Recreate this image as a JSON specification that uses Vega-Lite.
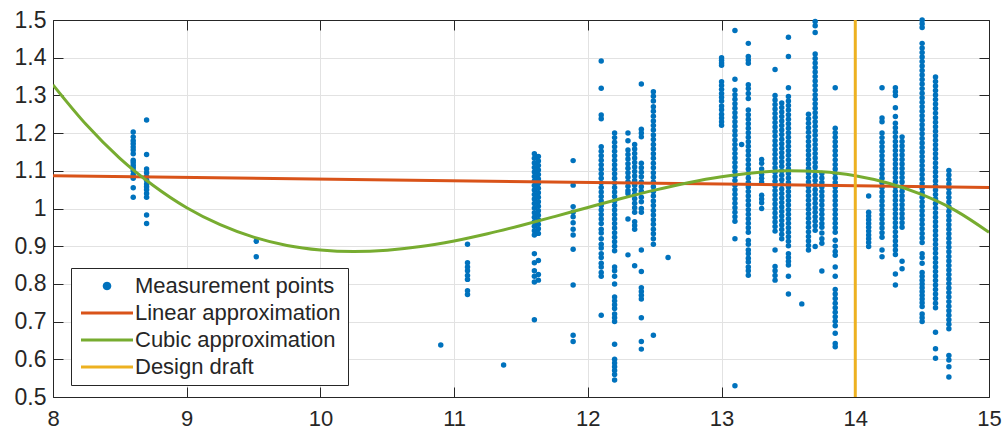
{
"$schema": "https://vega.github.io/schema/vega-lite/v6.json",
"width": 936, "height": 377,
"autosize": {"type": "none"},
"padding": {"left": 53, "top": 20, "right": 18, "bottom": 37},
"background": "white",
"config": {
  "view": {"stroke": null},
  "font": "Liberation Sans",
  "axis": {"domainColor": "#262626", "domainWidth": 1, "tickColor": "#262626", "tickSize": -10, "tickWidth": 1, "labelColor": "#262626", "labelFont": "Liberation Sans", "labelFontSize": 23, "gridColor": "#e2e2e2", "gridWidth": 1, "gridOpacity": 1},
  "legend": {"orient": "none", "legendX": 18, "legendY": 248, "fillColor": "white", "strokeColor": "#262626", "padding": 7, "rowPadding": 5, "labelFontSize": 22, "labelColor": "#262626", "labelFont": "Liberation Sans", "labelLimit": 400, "symbolSize": 100, "labelOffset": 35}
},
"datasets": {
"pts": [
{"x":8.6,"y":1.03},{"x":8.6,"y":1.055},{"x":8.6,"y":1.08},{"x":8.6,"y":1.09},{"x":8.6,"y":1.1},{"x":8.6,"y":1.108},{"x":8.6,"y":1.115},{"x":8.6,"y":1.122},{"x":8.6,"y":1.128},{"x":8.6,"y":1.145},{"x":8.6,"y":1.155},{"x":8.6,"y":1.163},{"x":8.6,"y":1.172},{"x":8.6,"y":1.18},{"x":8.6,"y":1.19},{"x":8.6,"y":1.203},
{"x":8.7,"y":0.96},{"x":8.7,"y":0.983},{"x":8.7,"y":1.03},{"x":8.7,"y":1.04},{"x":8.7,"y":1.05},{"x":8.7,"y":1.058},{"x":8.7,"y":1.065},{"x":8.7,"y":1.075},{"x":8.7,"y":1.085},{"x":8.7,"y":1.095},{"x":8.7,"y":1.105},{"x":8.7,"y":1.143},{"x":8.7,"y":1.235},
{"x":9.52,"y":0.872},{"x":9.52,"y":0.913},
{"x":10.9,"y":0.638},
{"x":11.1,"y":0.772},{"x":11.1,"y":0.782},{"x":11.1,"y":0.812},{"x":11.1,"y":0.822},{"x":11.1,"y":0.835},{"x":11.1,"y":0.845},{"x":11.1,"y":0.856},{"x":11.1,"y":0.905},
{"x":11.37,"y":0.585},
{"x":11.6,"y":1.145},{"x":11.6,"y":1.133},{"x":11.6,"y":1.121},{"x":11.6,"y":1.109},{"x":11.6,"y":1.097},{"x":11.6,"y":1.085},{"x":11.6,"y":1.073},{"x":11.6,"y":1.061},{"x":11.6,"y":1.049},{"x":11.6,"y":1.037},{"x":11.6,"y":1.025},{"x":11.6,"y":1.013},{"x":11.6,"y":1.001},{"x":11.6,"y":0.989},{"x":11.6,"y":0.977},{"x":11.6,"y":0.965},{"x":11.6,"y":0.953},{"x":11.6,"y":0.941},{"x":11.6,"y":0.93},{"x":11.6,"y":0.88},{"x":11.6,"y":0.856},{"x":11.6,"y":0.835},{"x":11.6,"y":0.82},{"x":11.6,"y":0.805},{"x":11.6,"y":0.705},
{"x":11.63,"y":1.138},{"x":11.63,"y":1.126},{"x":11.63,"y":1.114},{"x":11.63,"y":1.102},{"x":11.63,"y":1.09},{"x":11.63,"y":1.078},{"x":11.63,"y":1.066},{"x":11.63,"y":1.054},{"x":11.63,"y":1.042},{"x":11.63,"y":1.03},{"x":11.63,"y":1.018},{"x":11.63,"y":1.006},{"x":11.63,"y":0.994},{"x":11.63,"y":0.982},{"x":11.63,"y":0.97},{"x":11.63,"y":0.958},{"x":11.63,"y":0.946},{"x":11.63,"y":0.934},{"x":11.63,"y":0.862},{"x":11.63,"y":0.825},{"x":11.63,"y":0.81},
{"x":11.89,"y":1.127},{"x":11.89,"y":1.062},{"x":11.89,"y":1.005},{"x":11.89,"y":0.99},{"x":11.89,"y":0.978},{"x":11.89,"y":0.962},{"x":11.89,"y":0.945},{"x":11.89,"y":0.93},{"x":11.89,"y":0.892},{"x":11.89,"y":0.797},{"x":11.89,"y":0.664},{"x":11.89,"y":0.647},
{"x":12.1,"y":1.391},{"x":12.1,"y":1.319},{"x":12.1,"y":1.248},{"x":12.1,"y":1.238},{"x":12.1,"y":1.164},{"x":12.1,"y":1.152},{"x":12.1,"y":1.14},{"x":12.1,"y":1.128},{"x":12.1,"y":1.116},{"x":12.1,"y":1.104},{"x":12.1,"y":1.092},{"x":12.1,"y":1.08},{"x":12.1,"y":1.068},{"x":12.1,"y":1.056},{"x":12.1,"y":1.044},{"x":12.1,"y":1.032},{"x":12.1,"y":1.02},{"x":12.1,"y":1.008},{"x":12.1,"y":0.996},{"x":12.1,"y":0.984},{"x":12.1,"y":0.972},{"x":12.1,"y":0.96},{"x":12.1,"y":0.945},{"x":12.1,"y":0.935},{"x":12.1,"y":0.92},{"x":12.1,"y":0.905},{"x":12.1,"y":0.895},{"x":12.1,"y":0.88},{"x":12.1,"y":0.87},{"x":12.1,"y":0.855},{"x":12.1,"y":0.845},{"x":12.1,"y":0.83},{"x":12.1,"y":0.82},{"x":12.1,"y":0.717},
{"x":12.2,"y":1.2},{"x":12.2,"y":1.188},{"x":12.2,"y":1.176},{"x":12.2,"y":1.164},{"x":12.2,"y":1.152},{"x":12.2,"y":1.14},{"x":12.2,"y":1.128},{"x":12.2,"y":1.116},{"x":12.2,"y":1.104},{"x":12.2,"y":1.092},{"x":12.2,"y":1.08},{"x":12.2,"y":1.068},{"x":12.2,"y":1.056},{"x":12.2,"y":1.044},{"x":12.2,"y":1.032},{"x":12.2,"y":1.02},{"x":12.2,"y":1.008},{"x":12.2,"y":0.996},{"x":12.2,"y":0.984},{"x":12.2,"y":0.972},{"x":12.2,"y":0.96},{"x":12.2,"y":0.948},{"x":12.2,"y":0.936},{"x":12.2,"y":0.924},{"x":12.2,"y":0.912},{"x":12.2,"y":0.9},{"x":12.2,"y":0.888},{"x":12.2,"y":0.845},{"x":12.2,"y":0.835},{"x":12.2,"y":0.82},{"x":12.2,"y":0.8},{"x":12.2,"y":0.765},{"x":12.2,"y":0.755},{"x":12.2,"y":0.745},{"x":12.2,"y":0.735},{"x":12.2,"y":0.72},{"x":12.2,"y":0.71},{"x":12.2,"y":0.7},{"x":12.2,"y":0.64},{"x":12.2,"y":0.6},{"x":12.2,"y":0.59},{"x":12.2,"y":0.58},{"x":12.2,"y":0.57},{"x":12.2,"y":0.56},{"x":12.2,"y":0.545},
{"x":12.3,"y":1.2},{"x":12.3,"y":1.18},{"x":12.3,"y":1.155},{"x":12.3,"y":1.143},{"x":12.3,"y":1.131},{"x":12.3,"y":1.119},{"x":12.3,"y":1.107},{"x":12.3,"y":1.095},{"x":12.3,"y":1.083},{"x":12.3,"y":1.071},{"x":12.3,"y":1.059},{"x":12.3,"y":1.047},{"x":12.3,"y":1.04},{"x":12.3,"y":0.972},{"x":12.3,"y":0.877},
{"x":12.35,"y":1.17},{"x":12.35,"y":1.158},{"x":12.35,"y":1.146},{"x":12.35,"y":1.134},{"x":12.35,"y":1.122},{"x":12.35,"y":1.11},{"x":12.35,"y":1.098},{"x":12.35,"y":1.086},{"x":12.35,"y":1.074},{"x":12.35,"y":1.062},{"x":12.35,"y":1.05},{"x":12.35,"y":1.038},{"x":12.35,"y":1.026},{"x":12.35,"y":1.014},{"x":12.35,"y":1.002},{"x":12.35,"y":0.99},{"x":12.35,"y":0.965},{"x":12.35,"y":0.955},{"x":12.35,"y":0.945},{"x":12.35,"y":0.848},
{"x":12.4,"y":1.33},{"x":12.4,"y":1.21},{"x":12.4,"y":1.2},{"x":12.4,"y":1.19},{"x":12.4,"y":1.12},{"x":12.4,"y":1.108},{"x":12.4,"y":1.096},{"x":12.4,"y":1.084},{"x":12.4,"y":1.07},{"x":12.4,"y":1.058},{"x":12.4,"y":1.046},{"x":12.4,"y":1.03},{"x":12.4,"y":1.018},{"x":12.4,"y":1.0},{"x":12.4,"y":0.99},{"x":12.4,"y":0.89},{"x":12.4,"y":0.833},{"x":12.4,"y":0.79},{"x":12.4,"y":0.78},{"x":12.4,"y":0.77},{"x":12.4,"y":0.76},{"x":12.4,"y":0.71},{"x":12.4,"y":0.647},{"x":12.4,"y":0.627},
{"x":12.49,"y":1.31},{"x":12.49,"y":1.298},{"x":12.49,"y":1.285},{"x":12.49,"y":1.27},{"x":12.49,"y":1.258},{"x":12.49,"y":1.245},{"x":12.49,"y":1.232},{"x":12.49,"y":1.22},{"x":12.49,"y":1.208},{"x":12.49,"y":1.195},{"x":12.49,"y":1.183},{"x":12.49,"y":1.17},{"x":12.49,"y":1.158},{"x":12.49,"y":1.145},{"x":12.49,"y":1.133},{"x":12.49,"y":1.12},{"x":12.49,"y":1.108},{"x":12.49,"y":1.095},{"x":12.49,"y":1.083},{"x":12.49,"y":1.07},{"x":12.49,"y":1.058},{"x":12.49,"y":1.045},{"x":12.49,"y":1.033},{"x":12.49,"y":1.02},{"x":12.49,"y":1.008},{"x":12.49,"y":0.995},{"x":12.49,"y":0.983},{"x":12.49,"y":0.97},{"x":12.49,"y":0.958},{"x":12.49,"y":0.945},{"x":12.49,"y":0.933},{"x":12.49,"y":0.92},{"x":12.49,"y":0.905},{"x":12.49,"y":0.664},
{"x":12.6,"y":0.87},
{"x":13.0,"y":1.4},{"x":13.0,"y":1.393},{"x":13.0,"y":1.386},{"x":13.0,"y":1.38},{"x":13.0,"y":1.336},{"x":13.0,"y":1.326},{"x":13.0,"y":1.316},{"x":13.0,"y":1.305},{"x":13.0,"y":1.295},{"x":13.0,"y":1.285},{"x":13.0,"y":1.272},{"x":13.0,"y":1.262},{"x":13.0,"y":1.25},{"x":13.0,"y":1.24},{"x":13.0,"y":1.23},{"x":13.0,"y":1.221},
{"x":13.1,"y":1.472},{"x":13.1,"y":1.343},{"x":13.1,"y":1.314},{"x":13.1,"y":1.302},{"x":13.1,"y":1.29},{"x":13.1,"y":1.278},{"x":13.1,"y":1.266},{"x":13.1,"y":1.254},{"x":13.1,"y":1.242},{"x":13.1,"y":1.23},{"x":13.1,"y":1.218},{"x":13.1,"y":1.206},{"x":13.1,"y":1.194},{"x":13.1,"y":1.182},{"x":13.1,"y":1.17},{"x":13.1,"y":1.158},{"x":13.1,"y":1.146},{"x":13.1,"y":1.134},{"x":13.1,"y":1.122},{"x":13.1,"y":1.11},{"x":13.1,"y":1.098},{"x":13.1,"y":1.086},{"x":13.1,"y":1.074},{"x":13.1,"y":1.062},{"x":13.1,"y":1.05},{"x":13.1,"y":1.038},{"x":13.1,"y":1.026},{"x":13.1,"y":1.014},{"x":13.1,"y":1.002},{"x":13.1,"y":0.99},{"x":13.1,"y":0.978},{"x":13.1,"y":0.966},{"x":13.1,"y":0.92},{"x":13.1,"y":0.53},
{"x":13.15,"y":1.17},
{"x":13.2,"y":1.438},{"x":13.2,"y":1.403},{"x":13.2,"y":1.394},{"x":13.2,"y":1.385},{"x":13.2,"y":1.328},{"x":13.2,"y":1.318},{"x":13.2,"y":1.305},{"x":13.2,"y":1.292},{"x":13.2,"y":1.261},{"x":13.2,"y":1.249},{"x":13.2,"y":1.237},{"x":13.2,"y":1.225},{"x":13.2,"y":1.213},{"x":13.2,"y":1.201},{"x":13.2,"y":1.189},{"x":13.2,"y":1.177},{"x":13.2,"y":1.165},{"x":13.2,"y":1.153},{"x":13.2,"y":1.141},{"x":13.2,"y":1.129},{"x":13.2,"y":1.117},{"x":13.2,"y":1.105},{"x":13.2,"y":1.093},{"x":13.2,"y":1.081},{"x":13.2,"y":1.069},{"x":13.2,"y":1.057},{"x":13.2,"y":1.045},{"x":13.2,"y":1.033},{"x":13.2,"y":1.021},{"x":13.2,"y":1.009},{"x":13.2,"y":0.997},{"x":13.2,"y":0.985},{"x":13.2,"y":0.973},{"x":13.2,"y":0.961},{"x":13.2,"y":0.949},{"x":13.2,"y":0.937},{"x":13.2,"y":0.915},{"x":13.2,"y":0.905},{"x":13.2,"y":0.89},{"x":13.2,"y":0.88},{"x":13.2,"y":0.868},{"x":13.2,"y":0.858},{"x":13.2,"y":0.845},{"x":13.2,"y":0.835},{"x":13.2,"y":0.823},
{"x":13.3,"y":1.13},{"x":13.3,"y":1.12},{"x":13.3,"y":1.105},{"x":13.3,"y":1.09},{"x":13.3,"y":1.08},{"x":13.3,"y":1.07},{"x":13.3,"y":1.035},{"x":13.3,"y":1.025},{"x":13.3,"y":1.015},{"x":13.3,"y":1.0},
{"x":13.4,"y":1.369},{"x":13.4,"y":1.3},{"x":13.4,"y":1.288},{"x":13.4,"y":1.276},{"x":13.4,"y":1.264},{"x":13.4,"y":1.252},{"x":13.4,"y":1.24},{"x":13.4,"y":1.228},{"x":13.4,"y":1.216},{"x":13.4,"y":1.204},{"x":13.4,"y":1.192},{"x":13.4,"y":1.18},{"x":13.4,"y":1.168},{"x":13.4,"y":1.156},{"x":13.4,"y":1.144},{"x":13.4,"y":1.132},{"x":13.4,"y":1.12},{"x":13.4,"y":1.108},{"x":13.4,"y":1.096},{"x":13.4,"y":1.084},{"x":13.4,"y":1.072},{"x":13.4,"y":1.06},{"x":13.4,"y":1.048},{"x":13.4,"y":1.036},{"x":13.4,"y":1.024},{"x":13.4,"y":1.012},{"x":13.4,"y":1.0},{"x":13.4,"y":0.988},{"x":13.4,"y":0.976},{"x":13.4,"y":0.964},{"x":13.4,"y":0.952},{"x":13.4,"y":0.94},{"x":13.4,"y":0.89},{"x":13.4,"y":0.846},{"x":13.4,"y":0.835},{"x":13.4,"y":0.822},{"x":13.4,"y":0.81},
{"x":13.45,"y":1.28},{"x":13.45,"y":1.268},{"x":13.45,"y":1.256},{"x":13.45,"y":1.244},{"x":13.45,"y":1.232},{"x":13.45,"y":1.22},{"x":13.45,"y":1.208},{"x":13.45,"y":1.196},{"x":13.45,"y":1.184},{"x":13.45,"y":1.172},{"x":13.45,"y":1.16},{"x":13.45,"y":1.148},{"x":13.45,"y":1.136},{"x":13.45,"y":1.124},{"x":13.45,"y":1.112},{"x":13.45,"y":1.1},{"x":13.45,"y":1.088},{"x":13.45,"y":1.076},{"x":13.45,"y":1.064},{"x":13.45,"y":1.052},{"x":13.45,"y":1.04},{"x":13.45,"y":1.028},{"x":13.45,"y":1.016},{"x":13.45,"y":1.004},{"x":13.45,"y":0.992},{"x":13.45,"y":0.98},{"x":13.45,"y":0.968},{"x":13.45,"y":0.956},{"x":13.45,"y":0.944},{"x":13.45,"y":0.932},{"x":13.45,"y":0.92},
{"x":13.5,"y":1.454},{"x":13.5,"y":1.403},{"x":13.5,"y":1.32},{"x":13.5,"y":1.297},{"x":13.5,"y":1.285},{"x":13.5,"y":1.273},{"x":13.5,"y":1.261},{"x":13.5,"y":1.249},{"x":13.5,"y":1.237},{"x":13.5,"y":1.225},{"x":13.5,"y":1.213},{"x":13.5,"y":1.201},{"x":13.5,"y":1.189},{"x":13.5,"y":1.177},{"x":13.5,"y":1.165},{"x":13.5,"y":1.153},{"x":13.5,"y":1.141},{"x":13.5,"y":1.129},{"x":13.5,"y":1.117},{"x":13.5,"y":1.105},{"x":13.5,"y":1.093},{"x":13.5,"y":1.081},{"x":13.5,"y":1.069},{"x":13.5,"y":1.057},{"x":13.5,"y":1.045},{"x":13.5,"y":1.033},{"x":13.5,"y":1.021},{"x":13.5,"y":1.009},{"x":13.5,"y":0.997},{"x":13.5,"y":0.985},{"x":13.5,"y":0.973},{"x":13.5,"y":0.961},{"x":13.5,"y":0.949},{"x":13.5,"y":0.937},{"x":13.5,"y":0.925},{"x":13.5,"y":0.913},{"x":13.5,"y":0.901},{"x":13.5,"y":0.88},{"x":13.5,"y":0.87},{"x":13.5,"y":0.86},{"x":13.5,"y":0.85},{"x":13.5,"y":0.82},{"x":13.5,"y":0.773},
{"x":13.6,"y":0.747},
{"x":13.65,"y":1.25},{"x":13.65,"y":1.238},{"x":13.65,"y":1.226},{"x":13.65,"y":1.214},{"x":13.65,"y":1.202},{"x":13.65,"y":1.19},{"x":13.65,"y":1.178},{"x":13.65,"y":1.166},{"x":13.65,"y":1.154},{"x":13.65,"y":1.142},{"x":13.65,"y":1.13},{"x":13.65,"y":1.118},{"x":13.65,"y":1.106},{"x":13.65,"y":1.094},{"x":13.65,"y":1.082},{"x":13.65,"y":1.07},{"x":13.65,"y":1.058},{"x":13.65,"y":1.046},{"x":13.65,"y":1.034},{"x":13.65,"y":1.022},{"x":13.65,"y":1.01},{"x":13.65,"y":0.998},{"x":13.65,"y":0.986},{"x":13.65,"y":0.974},{"x":13.65,"y":0.962},{"x":13.65,"y":0.95},{"x":13.65,"y":0.938},{"x":13.65,"y":0.926},{"x":13.65,"y":0.914},{"x":13.65,"y":0.902},{"x":13.65,"y":0.89},
{"x":13.7,"y":1.496},{"x":13.7,"y":1.485},{"x":13.7,"y":1.467},{"x":13.7,"y":1.41},{"x":13.7,"y":1.398},{"x":13.7,"y":1.386},{"x":13.7,"y":1.374},{"x":13.7,"y":1.362},{"x":13.7,"y":1.35},{"x":13.7,"y":1.338},{"x":13.7,"y":1.326},{"x":13.7,"y":1.314},{"x":13.7,"y":1.302},{"x":13.7,"y":1.29},{"x":13.7,"y":1.278},{"x":13.7,"y":1.266},{"x":13.7,"y":1.254},{"x":13.7,"y":1.242},{"x":13.7,"y":1.23},{"x":13.7,"y":1.218},{"x":13.7,"y":1.206},{"x":13.7,"y":1.194},{"x":13.7,"y":1.182},{"x":13.7,"y":1.17},{"x":13.7,"y":1.158},{"x":13.7,"y":1.146},{"x":13.7,"y":1.134},{"x":13.7,"y":1.122},{"x":13.7,"y":1.11},{"x":13.7,"y":1.098},{"x":13.7,"y":1.086},{"x":13.7,"y":1.074},{"x":13.7,"y":1.062},{"x":13.7,"y":1.05},{"x":13.7,"y":1.038},{"x":13.7,"y":1.026},{"x":13.7,"y":1.014},{"x":13.7,"y":1.002},{"x":13.7,"y":0.99},{"x":13.7,"y":0.978},{"x":13.7,"y":0.966},{"x":13.7,"y":0.954},{"x":13.7,"y":0.942},{"x":13.7,"y":0.899},
{"x":13.75,"y":1.093},{"x":13.75,"y":1.081},{"x":13.75,"y":1.069},{"x":13.75,"y":1.057},{"x":13.75,"y":1.045},{"x":13.75,"y":1.033},{"x":13.75,"y":1.021},{"x":13.75,"y":1.009},{"x":13.75,"y":0.997},{"x":13.75,"y":0.985},{"x":13.75,"y":0.973},{"x":13.75,"y":0.96},{"x":13.75,"y":0.95},{"x":13.75,"y":0.935},{"x":13.75,"y":0.92},{"x":13.75,"y":0.908},{"x":13.75,"y":0.834},
{"x":13.85,"y":1.32},{"x":13.85,"y":1.213},{"x":13.85,"y":1.201},{"x":13.85,"y":1.189},{"x":13.85,"y":1.177},{"x":13.85,"y":1.165},{"x":13.85,"y":1.153},{"x":13.85,"y":1.141},{"x":13.85,"y":1.129},{"x":13.85,"y":1.117},{"x":13.85,"y":1.105},{"x":13.85,"y":1.093},{"x":13.85,"y":1.081},{"x":13.85,"y":1.069},{"x":13.85,"y":1.057},{"x":13.85,"y":1.045},{"x":13.85,"y":1.033},{"x":13.85,"y":1.021},{"x":13.85,"y":1.009},{"x":13.85,"y":0.997},{"x":13.85,"y":0.985},{"x":13.85,"y":0.973},{"x":13.85,"y":0.961},{"x":13.85,"y":0.949},{"x":13.85,"y":0.937},{"x":13.85,"y":0.916},{"x":13.85,"y":0.9},{"x":13.85,"y":0.886},{"x":13.85,"y":0.876},{"x":13.85,"y":0.845},{"x":13.85,"y":0.82},{"x":13.85,"y":0.785},{"x":13.85,"y":0.773},{"x":13.85,"y":0.761},{"x":13.85,"y":0.749},{"x":13.85,"y":0.737},{"x":13.85,"y":0.725},{"x":13.85,"y":0.713},{"x":13.85,"y":0.701},{"x":13.85,"y":0.689},{"x":13.85,"y":0.669},{"x":13.85,"y":0.642},{"x":13.85,"y":0.633},
{"x":14.1,"y":1.033},{"x":14.1,"y":0.99},{"x":14.1,"y":0.98},{"x":14.1,"y":0.97},{"x":14.1,"y":0.96},{"x":14.1,"y":0.95},{"x":14.1,"y":0.94},{"x":14.1,"y":0.93},{"x":14.1,"y":0.92},{"x":14.1,"y":0.91},{"x":14.1,"y":0.899},
{"x":14.2,"y":1.32},{"x":14.2,"y":1.24},{"x":14.2,"y":1.23},{"x":14.2,"y":1.2},{"x":14.2,"y":1.188},{"x":14.2,"y":1.176},{"x":14.2,"y":1.164},{"x":14.2,"y":1.152},{"x":14.2,"y":1.14},{"x":14.2,"y":1.128},{"x":14.2,"y":1.116},{"x":14.2,"y":1.104},{"x":14.2,"y":1.092},{"x":14.2,"y":1.08},{"x":14.2,"y":1.068},{"x":14.2,"y":1.056},{"x":14.2,"y":1.044},{"x":14.2,"y":1.032},{"x":14.2,"y":1.02},{"x":14.2,"y":1.008},{"x":14.2,"y":0.996},{"x":14.2,"y":0.984},{"x":14.2,"y":0.972},{"x":14.2,"y":0.96},{"x":14.2,"y":0.948},{"x":14.2,"y":0.936},{"x":14.2,"y":0.924},{"x":14.2,"y":0.89},{"x":14.2,"y":0.872},
{"x":14.3,"y":1.32},{"x":14.3,"y":1.31},{"x":14.3,"y":1.3},{"x":14.3,"y":1.267},{"x":14.3,"y":1.244},{"x":14.3,"y":1.226},{"x":14.3,"y":1.214},{"x":14.3,"y":1.202},{"x":14.3,"y":1.19},{"x":14.3,"y":1.178},{"x":14.3,"y":1.166},{"x":14.3,"y":1.154},{"x":14.3,"y":1.142},{"x":14.3,"y":1.13},{"x":14.3,"y":1.118},{"x":14.3,"y":1.106},{"x":14.3,"y":1.094},{"x":14.3,"y":1.082},{"x":14.3,"y":1.07},{"x":14.3,"y":1.058},{"x":14.3,"y":1.046},{"x":14.3,"y":1.034},{"x":14.3,"y":1.022},{"x":14.3,"y":1.01},{"x":14.3,"y":0.998},{"x":14.3,"y":0.986},{"x":14.3,"y":0.974},{"x":14.3,"y":0.962},{"x":14.3,"y":0.95},{"x":14.3,"y":0.938},{"x":14.3,"y":0.926},{"x":14.3,"y":0.914},{"x":14.3,"y":0.902},{"x":14.3,"y":0.89},{"x":14.3,"y":0.878},{"x":14.3,"y":0.826},{"x":14.3,"y":0.797},
{"x":14.35,"y":1.19},{"x":14.35,"y":1.178},{"x":14.35,"y":1.166},{"x":14.35,"y":1.154},{"x":14.35,"y":1.142},{"x":14.35,"y":1.13},{"x":14.35,"y":1.118},{"x":14.35,"y":1.106},{"x":14.35,"y":1.094},{"x":14.35,"y":1.082},{"x":14.35,"y":1.07},{"x":14.35,"y":1.058},{"x":14.35,"y":1.046},{"x":14.35,"y":1.034},{"x":14.35,"y":1.022},{"x":14.35,"y":1.01},{"x":14.35,"y":0.998},{"x":14.35,"y":0.986},{"x":14.35,"y":0.974},{"x":14.35,"y":0.962},{"x":14.35,"y":0.95},{"x":14.35,"y":0.86},{"x":14.35,"y":0.84},
{"x":14.5,"y":1.5},{"x":14.5,"y":1.49},{"x":14.5,"y":1.48},{"x":14.5,"y":1.438},{"x":14.5,"y":1.426},{"x":14.5,"y":1.414},{"x":14.5,"y":1.402},{"x":14.5,"y":1.39},{"x":14.5,"y":1.378},{"x":14.5,"y":1.366},{"x":14.5,"y":1.354},{"x":14.5,"y":1.342},{"x":14.5,"y":1.33},{"x":14.5,"y":1.318},{"x":14.5,"y":1.306},{"x":14.5,"y":1.294},{"x":14.5,"y":1.282},{"x":14.5,"y":1.27},{"x":14.5,"y":1.258},{"x":14.5,"y":1.246},{"x":14.5,"y":1.234},{"x":14.5,"y":1.222},{"x":14.5,"y":1.21},{"x":14.5,"y":1.198},{"x":14.5,"y":1.186},{"x":14.5,"y":1.174},{"x":14.5,"y":1.162},{"x":14.5,"y":1.15},{"x":14.5,"y":1.138},{"x":14.5,"y":1.126},{"x":14.5,"y":1.114},{"x":14.5,"y":1.102},{"x":14.5,"y":1.09},{"x":14.5,"y":1.078},{"x":14.5,"y":1.066},{"x":14.5,"y":1.054},{"x":14.5,"y":1.042},{"x":14.5,"y":1.03},{"x":14.5,"y":1.018},{"x":14.5,"y":1.006},{"x":14.5,"y":0.994},{"x":14.5,"y":0.982},{"x":14.5,"y":0.97},{"x":14.5,"y":0.958},{"x":14.5,"y":0.946},{"x":14.5,"y":0.934},{"x":14.5,"y":0.922},{"x":14.5,"y":0.91},{"x":14.5,"y":0.88},{"x":14.5,"y":0.87},{"x":14.5,"y":0.855},{"x":14.5,"y":0.83},{"x":14.5,"y":0.82},{"x":14.5,"y":0.81},{"x":14.5,"y":0.8},{"x":14.5,"y":0.79},{"x":14.5,"y":0.78},{"x":14.5,"y":0.77},{"x":14.5,"y":0.76},{"x":14.5,"y":0.75},{"x":14.5,"y":0.74},{"x":14.5,"y":0.72},{"x":14.5,"y":0.71},{"x":14.5,"y":0.7},
{"x":14.6,"y":1.349},{"x":14.6,"y":1.337},{"x":14.6,"y":1.325},{"x":14.6,"y":1.313},{"x":14.6,"y":1.301},{"x":14.6,"y":1.289},{"x":14.6,"y":1.277},{"x":14.6,"y":1.265},{"x":14.6,"y":1.253},{"x":14.6,"y":1.241},{"x":14.6,"y":1.229},{"x":14.6,"y":1.217},{"x":14.6,"y":1.205},{"x":14.6,"y":1.193},{"x":14.6,"y":1.181},{"x":14.6,"y":1.169},{"x":14.6,"y":1.157},{"x":14.6,"y":1.145},{"x":14.6,"y":1.133},{"x":14.6,"y":1.121},{"x":14.6,"y":1.109},{"x":14.6,"y":1.097},{"x":14.6,"y":1.085},{"x":14.6,"y":1.073},{"x":14.6,"y":1.061},{"x":14.6,"y":1.049},{"x":14.6,"y":1.037},{"x":14.6,"y":1.025},{"x":14.6,"y":1.013},{"x":14.6,"y":1.001},{"x":14.6,"y":0.989},{"x":14.6,"y":0.977},{"x":14.6,"y":0.965},{"x":14.6,"y":0.953},{"x":14.6,"y":0.941},{"x":14.6,"y":0.929},{"x":14.6,"y":0.917},{"x":14.6,"y":0.905},{"x":14.6,"y":0.893},{"x":14.6,"y":0.881},{"x":14.6,"y":0.869},{"x":14.6,"y":0.857},{"x":14.6,"y":0.845},{"x":14.6,"y":0.833},{"x":14.6,"y":0.821},{"x":14.6,"y":0.809},{"x":14.6,"y":0.797},{"x":14.6,"y":0.785},{"x":14.6,"y":0.773},{"x":14.6,"y":0.761},{"x":14.6,"y":0.749},{"x":14.6,"y":0.737},{"x":14.6,"y":0.672},{"x":14.6,"y":0.628},{"x":14.6,"y":0.603},
{"x":14.7,"y":1.101},{"x":14.7,"y":1.089},{"x":14.7,"y":1.077},{"x":14.7,"y":1.065},{"x":14.7,"y":1.053},{"x":14.7,"y":1.041},{"x":14.7,"y":1.029},{"x":14.7,"y":1.017},{"x":14.7,"y":1.005},{"x":14.7,"y":0.993},{"x":14.7,"y":0.981},{"x":14.7,"y":0.969},{"x":14.7,"y":0.957},{"x":14.7,"y":0.945},{"x":14.7,"y":0.933},{"x":14.7,"y":0.921},{"x":14.7,"y":0.909},{"x":14.7,"y":0.897},{"x":14.7,"y":0.885},{"x":14.7,"y":0.873},{"x":14.7,"y":0.861},{"x":14.7,"y":0.849},{"x":14.7,"y":0.837},{"x":14.7,"y":0.825},{"x":14.7,"y":0.813},{"x":14.7,"y":0.801},{"x":14.7,"y":0.789},{"x":14.7,"y":0.777},{"x":14.7,"y":0.765},{"x":14.7,"y":0.753},{"x":14.7,"y":0.741},{"x":14.7,"y":0.729},{"x":14.7,"y":0.717},{"x":14.7,"y":0.705},{"x":14.7,"y":0.693},{"x":14.7,"y":0.681},{"x":14.7,"y":0.61},{"x":14.7,"y":0.598},{"x":14.7,"y":0.58},{"x":14.7,"y":0.553}
],
"linear": [
{"x":8,"y":1.087,"series":"Linear approximation"},{"x":15,"y":1.056,"series":"Linear approximation"}
],
"cubic": [
{"x":8.0,"y":1.328,"series":"Cubic approximation"},{"x":8.25,"y":1.222,"series":"Cubic approximation"},{"x":8.5,"y":1.133,"series":"Cubic approximation"},{"x":8.75,"y":1.061,"series":"Cubic approximation"},{"x":9.0,"y":1.002,"series":"Cubic approximation"},{"x":9.25,"y":0.957,"series":"Cubic approximation"},{"x":9.5,"y":0.924,"series":"Cubic approximation"},{"x":9.75,"y":0.902,"series":"Cubic approximation"},{"x":10.0,"y":0.89,"series":"Cubic approximation"},{"x":10.25,"y":0.886,"series":"Cubic approximation"},{"x":10.5,"y":0.8895,"series":"Cubic approximation"},{"x":10.75,"y":0.899,"series":"Cubic approximation"},{"x":11.0,"y":0.914,"series":"Cubic approximation"},{"x":11.25,"y":0.933,"series":"Cubic approximation"},{"x":11.5,"y":0.955,"series":"Cubic approximation"},{"x":11.75,"y":0.9785,"series":"Cubic approximation"},{"x":12.0,"y":1.0027,"series":"Cubic approximation"},{"x":12.25,"y":1.0265,"series":"Cubic approximation"},{"x":12.5,"y":1.0488,"series":"Cubic approximation"},{"x":12.75,"y":1.0684,"series":"Cubic approximation"},{"x":13.0,"y":1.0841,"series":"Cubic approximation"},{"x":13.25,"y":1.095,"series":"Cubic approximation"},{"x":13.5,"y":1.0999,"series":"Cubic approximation"},{"x":13.75,"y":1.0975,"series":"Cubic approximation"},{"x":14.0,"y":1.087,"series":"Cubic approximation"},{"x":14.25,"y":1.067,"series":"Cubic approximation"},{"x":14.5,"y":1.0366,"series":"Cubic approximation"},{"x":14.75,"y":0.9945,"series":"Cubic approximation"},{"x":15.0,"y":0.937,"series":"Cubic approximation"}
],
"draft": [
{"x":14,"y":0.5,"series":"Design draft"},{"x":14,"y":1.5,"series":"Design draft"}
]
},
"layer": [
{
  "data": {"name": "pts"},
  "mark": {"type": "circle", "size": 30, "opacity": 1, "color": "#0072BD"},
  "encoding": {
    "x": {"field": "x", "type": "quantitative", "scale": {"domain": [8, 15], "nice": false, "zero": false},
      "axis": {"orient": "bottom", "title": null, "values": [8,9,10,11,12,13,14,15], "grid": true, "labelFlush": false, "labelPadding": 21, "labelFontSize": 22}},
    "y": {"field": "y", "type": "quantitative", "scale": {"domain": [0.5, 1.5], "nice": false, "zero": false},
      "axis": {"orient": "left", "title": null, "values": [0.5,0.6,0.7,0.8,0.9,1,1.1,1.2,1.3,1.4,1.5], "format": "~g", "grid": true, "labelFlush": false, "labelPadding": 17}},
    "color": {"datum": "Measurement points", "type": "nominal",
      "scale": {"domain": ["Measurement points", "Linear approximation", "Cubic approximation", "Design draft"], "range": ["#0072BD", "#D95319", "#77AC30", "#EDB120"]},
      "legend": {"title": null,
        "encode": {"symbols": {"update": {
          "shape": {"signal": "datum.value === 'Measurement points' ? 'M4.16,0L4.085,0.28L3.88,0.485L3.6,0.56L3.32,0.485L3.115,0.28L3.04,0L3.115,-0.28L3.32,-0.485L3.6,-0.56L3.88,-0.485L4.085,-0.28Z' : 'M-1.6,0H8.8'"},
          "fill": {"signal": "datum.value === 'Measurement points' ? '#0072BD' : 'transparent'"},
          "stroke": {"signal": "datum.value === 'Measurement points' ? 'transparent' : datum.value === 'Linear approximation' ? '#D95319' : datum.value === 'Cubic approximation' ? '#77AC30' : '#EDB120'"},
          "strokeWidth": {"value": 3},
          "opacity": {"value": 1},
          "size": {"value": 100}
        }}}
      }}
  }
},
{
  "data": {"name": "linear"},
  "mark": {"type": "line", "strokeWidth": 3, "clip": true},
  "encoding": {
    "x": {"field": "x", "type": "quantitative", "axis": {"orient": "top", "title": null, "labels": false, "grid": false, "values": [8,9,10,11,12,13,14,15]}},
    "y": {"field": "y", "type": "quantitative", "axis": {"orient": "right", "title": null, "labels": false, "grid": false, "values": [0.5,0.6,0.7,0.8,0.9,1,1.1,1.2,1.3,1.4,1.5]}},
    "color": {"field": "series", "type": "nominal", "legend": {"title": null,
        "encode": {"symbols": {"update": {
          "shape": {"signal": "datum.value === 'Measurement points' ? 'M4.16,0L4.085,0.28L3.88,0.485L3.6,0.56L3.32,0.485L3.115,0.28L3.04,0L3.115,-0.28L3.32,-0.485L3.6,-0.56L3.88,-0.485L4.085,-0.28Z' : 'M-1.6,0H8.8'"},
          "fill": {"signal": "datum.value === 'Measurement points' ? '#0072BD' : 'transparent'"},
          "stroke": {"signal": "datum.value === 'Measurement points' ? 'transparent' : datum.value === 'Linear approximation' ? '#D95319' : datum.value === 'Cubic approximation' ? '#77AC30' : '#EDB120'"},
          "strokeWidth": {"value": 3},
          "opacity": {"value": 1},
          "size": {"value": 100}
        }}}}}
  }
},
{
  "data": {"name": "cubic"},
  "mark": {"type": "line", "strokeWidth": 3, "interpolate": "monotone", "clip": true},
  "encoding": {
    "x": {"field": "x", "type": "quantitative", "axis": null},
    "y": {"field": "y", "type": "quantitative", "axis": null},
    "color": {"field": "series", "type": "nominal", "legend": {"title": null,
        "encode": {"symbols": {"update": {
          "shape": {"signal": "datum.value === 'Measurement points' ? 'M4.16,0L4.085,0.28L3.88,0.485L3.6,0.56L3.32,0.485L3.115,0.28L3.04,0L3.115,-0.28L3.32,-0.485L3.6,-0.56L3.88,-0.485L4.085,-0.28Z' : 'M-1.6,0H8.8'"},
          "fill": {"signal": "datum.value === 'Measurement points' ? '#0072BD' : 'transparent'"},
          "stroke": {"signal": "datum.value === 'Measurement points' ? 'transparent' : datum.value === 'Linear approximation' ? '#D95319' : datum.value === 'Cubic approximation' ? '#77AC30' : '#EDB120'"},
          "strokeWidth": {"value": 3},
          "opacity": {"value": 1},
          "size": {"value": 100}
        }}}}}
  }
},
{
  "data": {"name": "draft"},
  "mark": {"type": "line", "strokeWidth": 3, "clip": true},
  "encoding": {
    "x": {"field": "x", "type": "quantitative", "axis": null},
    "y": {"field": "y", "type": "quantitative", "axis": null},
    "order": {"field": "y", "type": "quantitative"},
    "color": {"field": "series", "type": "nominal", "legend": {"title": null,
        "encode": {"symbols": {"update": {
          "shape": {"signal": "datum.value === 'Measurement points' ? 'M4.16,0L4.085,0.28L3.88,0.485L3.6,0.56L3.32,0.485L3.115,0.28L3.04,0L3.115,-0.28L3.32,-0.485L3.6,-0.56L3.88,-0.485L4.085,-0.28Z' : 'M-1.6,0H8.8'"},
          "fill": {"signal": "datum.value === 'Measurement points' ? '#0072BD' : 'transparent'"},
          "stroke": {"signal": "datum.value === 'Measurement points' ? 'transparent' : datum.value === 'Linear approximation' ? '#D95319' : datum.value === 'Cubic approximation' ? '#77AC30' : '#EDB120'"},
          "strokeWidth": {"value": 3},
          "opacity": {"value": 1},
          "size": {"value": 100}
        }}}}}
  }
}
],
"resolve": {"axis": {"x": "independent", "y": "independent"}}
}
